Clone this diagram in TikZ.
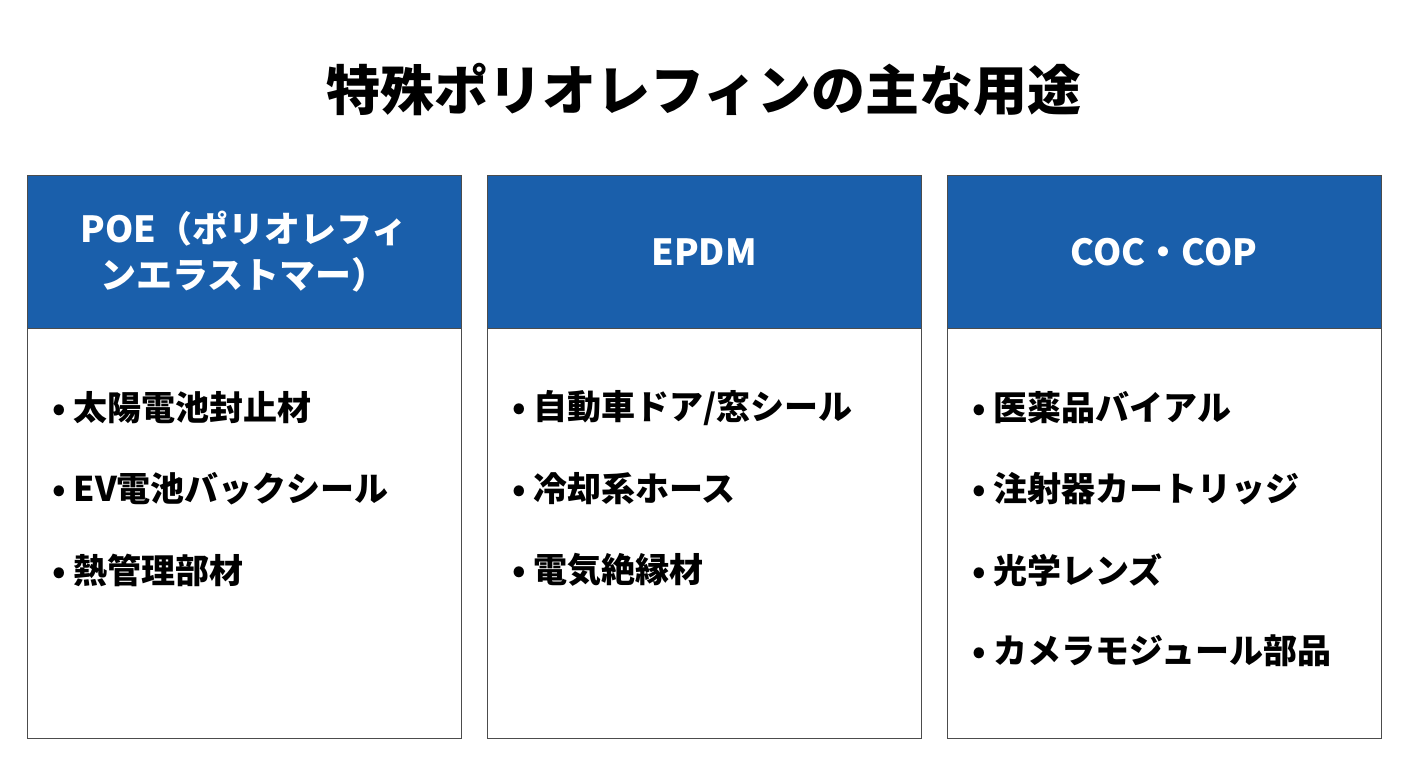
\documentclass[tikz,border=0pt]{standalone}
\usepackage{fontspec}
\setmainfont{Noto Sans CJK JP}
\definecolor{hdr}{HTML}{1A5FAB}
\begin{document}
\begin{tikzpicture}[x=1pt,y=-1pt,
  hbox/.style={fill=hdr,draw=black!70,line width=0.8pt},
  bbox/.style={fill=white,draw=black!70,line width=0.8pt},
  htext/.style={text=white,font=\bfseries\fontsize{36}{46}\selectfont,align=center},
  item/.style={anchor=west,font=\bfseries\fontsize{34}{40}\selectfont,inner sep=0pt}]
\useasboundingbox (0,0) rectangle (1408,768);
\node[font=\bfseries\fontsize{54}{60}\selectfont] (title) at (704,90) {特殊ポリオレフィンの主な用途};
\foreach \x/\n in {27/a,487/b,947/c}{
  \draw[bbox] (\x,328) rectangle ++(434,410);
  \draw[hbox] (\x,175) rectangle ++(434,153);
  \coordinate (\n) at (\x,0);
}
\node[htext] (h1) at (244,252) {POE（ポリオレフィ\\ンエラストマー）};
\node[htext] (h2) at (704,252) {EPDM};
\node[htext] (h3) at (1164,252) {COC・COP};
\node[item] (a1) at (52,408) {• 太陽電池封止材};
\node[item] (a2) at (52,489) {• EV電池バックシール};
\node[item] (a3) at (52,570) {• 熱管理部材};
\node[item] (b1) at (512,408) {• 自動車ドア/窓シール};
\node[item] (b2) at (512,489) {• 冷却系ホース};
\node[item] (b3) at (512,570) {• 電気絶縁材};
\node[item] (c1) at (972,408) {• 医薬品バイアル};
\node[item] (c2) at (972,489) {• 注射器カートリッジ};
\node[item] (c3) at (972,570) {• 光学レンズ};
\node[item] (c4) at (972,651) {• カメラモジュール部品};
\end{tikzpicture}
\end{document}
